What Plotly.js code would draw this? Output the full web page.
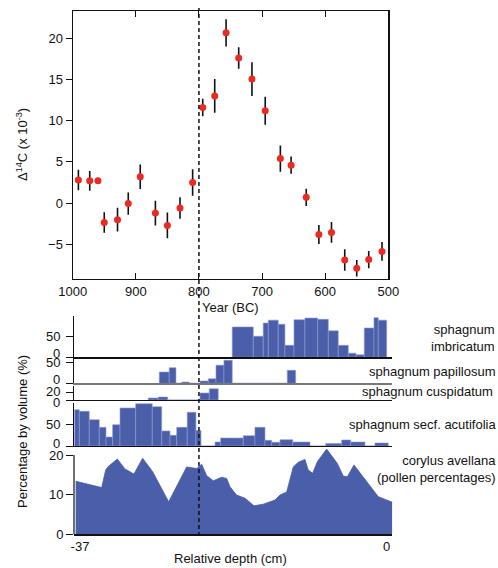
<!DOCTYPE html>
<html>
<head>
<meta charset="utf-8">
<script src="https://cdn.plot.ly/plotly-3.0.1.min.js"></script>
<style>html,body{margin:0;padding:0;background:#fff;}#chart{width:498px;height:568px;}</style>
</head>
<body>
<div id="chart"></div>
<script>
// ---- Top panel: Δ14C by calendar year (BC) ----
const years = [991, 973, 960, 950, 929, 912, 893, 869, 850, 830, 810, 794, 775, 757, 737, 716, 695, 671, 654, 630, 610, 590, 569, 550, 531, 510];
const d14c  = [2.8, 2.7, 2.7, -2.35, -2.0, -0.05, 3.2, -1.2, -2.7, -0.6, 2.5, 11.6, 13.0, 20.65, 17.6, 15.05, 11.2, 5.4, 4.6, 0.7, -3.8, -3.55, -6.9, -7.9, -6.85, -5.85];
const d14cErr = [1.25, 1.2, 0, 1.25, 1.45, 1.35, 1.5, 1.5, 1.55, 1.3, 1.6, 1.05, 2.05, 1.65, 1.3, 2.05, 1.7, 1.6, 1.05, 1.05, 1.15, 1.25, 1.3, 1.0, 1.05, 1.15];
const yearTicks = [1000, 900, 800, 700, 600, 500];
const d14cTicks = [-5, 0, 5, 10, 15, 20];

// ---- Lower panels: relative depth (cm), bin edges and percentages ----
const imbricatumEdges = [-18.63, -16.09, -14.89, -14.28, -13.08, -12.27, -11.18, -9.86, -8.32, -7.04, -5.84, -4.63, -3.70, -2.70, -1.53, -1.01, 0.0];
const imbricatumVals  = [73.5, 51, 83, 90, 80, 29, 91, 95, 92, 64, 29, 10, 6, 71, 96, 90];

const papillosumEdges = [-27.43, -26.23, -25.42, -24.73, -23.81, -22.52, -21.52, -20.59, -19.63, -18.63, -11.99, -10.98];
const papillosumVals  = [27.4, 38, 0, 3, 0, 5.6, 11, 44, 56, 0, 31.5];

const cuspidatumEdges = [-28.76, -27.55, -26.42, -22.52, -21.40, -20.32];
const cuspidatumVals  = [5, 7.5, 0, 17.5, 28];

const acutifoliaEdges = [-37.64, -37.08, -35.88, -34.67, -33.86, -33.06, -32.17, -30.28, -28.28, -27.14, -26.14, -25.33, -24.06, -23.01, -22.40, -20.71, -20.03, -17.30, -15.89, -14.68, -13.87, -12.87, -11.34, -9.25, -7.36, -5.43, -4.34, -2.62, -1.41, 0.19];
const acutifoliaVals  = [83.7, 80, 60.6, 43, 20.7, 49, 87.6, 97.5, 90.6, 34.6, 24.6, 43, 77.6, 36, 0, 9.2, 18.4, 23.8, 43, 13, 8.5, 14.5, 9.2, 0, 6, 13.8, 9.2, 0, 6.9];

const corylusDepth = [-37.52, -34.38, -33.90, -33.59, -32.50, -31.57, -30.49, -29.44, -28.23, -26.30, -24.13, -22.92, -22.32, -21.71, -20.92, -19.91, -19.30, -18.90, -18.10, -17.09, -16.01, -14.89, -13.48, -12.87, -12.06, -11.27, -10.66, -9.86, -9.46, -8.93, -8.37, -7.24, -5.96, -5.24, -4.75, -3.94, -2.41, -1.01, 0.68];
const corylusPct   = [13.4, 11.8, 16.2, 17.1, 19.0, 16.5, 15.2, 19.2, 15.8, 8.2, 17.0, 16.6, 17.7, 14.8, 13.5, 14.4, 14.1, 12.0, 9.9, 9.1, 7.2, 7.6, 8.65, 9.9, 10.7, 17.0, 18.2, 18.9, 16.2, 15.4, 18.3, 21.5, 17.9, 14.7, 14.5, 17.5, 13.3, 9.5, 8.1];
const corylusAxisMax = 20;

// panel axis ticks
const imbricatumTicks = [0, 50];
const papillosumTicks = [0, 50];
const cuspidatumTicks = [0, 20];
const acutifoliaTicks = [0, 50];
const corylusTicks = [0, 10, 20];

const depthTicks = [-37, 0];
const depthTickText = ['-37', '0'];
const panelLabels = ['sphagnum<br>imbricatum', 'sphagnum papillosum', 'sphagnum cuspidatum', 'sphagnum secf. acutifolia', 'corylus avellana<br>(pollen percentages)'];
const markerLine = 800; // year of the dashed reference line

// ---- layout helpers ----
const W = 498, H = 568;
const FONT = 'Liberation Sans, Arial, Helvetica, sans-serif';
const BLUE = '#4a5ea9';
function ydom(top, bottom) { return [1 - bottom / H, 1 - top / H]; }
function xdom(left, right) { return [left / W, right / W]; }

function barsFrom(edges, vals, xa, ya) {
  const x = [], w = [];
  for (let i = 0; i < vals.length; i++) { x.push(edges[i]); w.push(edges[i + 1] - edges[i]); }
  return {type: 'bar', x: x, y: vals, width: w, offset: 0, xaxis: xa, yaxis: ya,
          marker: {color: BLUE, line: {width: 0.6, color: '#8e9bd3'}}, hoverinfo: 'skip', showlegend: false};
}

const traces = [
  {type: 'scatter', mode: 'markers', x: years, y: d14c, xaxis: 'x', yaxis: 'y',
   marker: {color: '#ec2a22', size: 7},
   error_y: {type: 'data', array: d14cErr, visible: true, color: '#111', thickness: 1.6, width: 0},
   showlegend: false},
  barsFrom(imbricatumEdges, imbricatumVals, 'x2', 'y3'),
  barsFrom(papillosumEdges, papillosumVals, 'x3', 'y4'),
  barsFrom(cuspidatumEdges, cuspidatumVals, 'x4', 'y5'),
  barsFrom(acutifoliaEdges, acutifoliaVals, 'x5', 'y6'),
  {type: 'scatter', mode: 'lines', x: corylusDepth, y: corylusPct, xaxis: 'x6', yaxis: 'y7',
   fill: 'tozeroy', fillcolor: BLUE, line: {color: BLUE, width: 0.8}, showlegend: false}
];

const tickFont = {family: FONT, size: 13, color: '#111'};
const lowerX = xdom(74, 392.3);
const depthRange = [-37.72, 0.68];
function lowerXAxis(anchor, lineColor, extra) {
  return Object.assign({domain: lowerX, range: depthRange, anchor: anchor, showline: true, linecolor: lineColor, linewidth: 1.3,
    showgrid: false, zeroline: false, ticks: '', showticklabels: false, fixedrange: true}, extra || {});
}
function lowerYAxis(anchor, dom, range, tv, extra) {
  return Object.assign({domain: dom, range: range, anchor: anchor, showline: true, linecolor: '#111', linewidth: 1.2,
    ticks: 'outside', ticklen: 7, tickwidth: 1, tickcolor: '#111', tickvals: tv, tickfont: tickFont,
    showgrid: false, zeroline: false}, extra || {});
}

// tick labels of the four narrow bar panels are set as annotations so that
// crowded zero labels can be nudged like in the reference
const crowded = [
  {ref: 'y3', ticks: imbricatumTicks, shifts: [4, 0]},
  {ref: 'y4', ticks: papillosumTicks, shifts: [4, 0]},
  {ref: 'y5', ticks: cuspidatumTicks, shifts: [-2, 1]},
  {ref: 'y6', ticks: acutifoliaTicks, shifts: [3, 0]}
];
const tickAnnotations = [];
crowded.forEach(p => p.ticks.forEach((v, i) => tickAnnotations.push({
  text: String(v), xref: 'paper', yref: p.ref, x: 61.5 / W, y: v, xanchor: 'right', yanchor: 'middle',
  yshift: p.shifts[i], showarrow: false, font: tickFont
})));

const layout = {
  width: W, height: H, margin: {l: 0, r: 0, t: 0, b: 0}, paper_bgcolor: '#fff', plot_bgcolor: 'rgba(0,0,0,0)',
  font: {family: FONT, size: 13, color: '#111'}, showlegend: false, barmode: 'overlay',
  xaxis: {domain: xdom(72.7, 388.3), range: [1000, 500], anchor: 'y', tickvals: yearTicks, ticks: 'inside', ticklen: 6,
          tickcolor: '#111', showline: true, mirror: 'ticks', linecolor: '#111', linewidth: 1.2, showgrid: false,
          zeroline: false, tickfont: tickFont},
  yaxis: {domain: ydom(11, 279), range: [-9.2, 23.3], anchor: 'x', tickvals: d14cTicks, ticks: 'outside', ticklen: 6,
          tickcolor: '#111', showline: true, mirror: true, linecolor: '#111', linewidth: 1.2, showgrid: false,
          zeroline: false, tickfont: tickFont},
  yaxis2: {overlaying: 'y', side: 'right', anchor: 'x', range: [-9.2, 23.3], tickvals: d14cTicks, ticks: 'inside',
           ticklen: 6, tickcolor: '#111', showticklabels: false, showline: false, showgrid: false, zeroline: false},
  xaxis2: lowerXAxis('y3', '#111'),
  xaxis3: lowerXAxis('y4', '#777'),
  xaxis4: lowerXAxis('y5', '#111'),
  xaxis5: lowerXAxis('y6', '#111'),
  xaxis6: lowerXAxis('y7', '#111', {showticklabels: true, tickvals: depthTicks, ticktext: depthTickText, tickfont: tickFont}),
  yaxis3: lowerYAxis('x2', ydom(316, 357.3), [0, 100], imbricatumTicks, {showticklabels: false}),
  yaxis4: lowerYAxis('x3', ydom(359.4, 383.3), [0, 58], papillosumTicks, {showticklabels: false}),
  yaxis5: lowerYAxis('x4', ydom(386, 400), [0, 35], cuspidatumTicks, {showticklabels: false}),
  yaxis6: lowerYAxis('x5', ydom(402.6, 446), [0, 100], acutifoliaTicks, {showticklabels: false}),
  yaxis7: lowerYAxis('x6', ydom(448.7, 534.3), [0, 21.6], corylusTicks, {showline: false}),
  shapes: [
    {type: 'line', xref: 'x', yref: 'paper', x0: markerLine, x1: markerLine, y0: 1 - 536 / H, y1: 1 - 8 / H,
     line: {color: '#111', width: 1.5, dash: '4px,3px'}},
    {type: 'line', xref: 'x6 domain', yref: 'y7', x0: 0, x1: 0, y0: 0, y1: corylusAxisMax,
     line: {color: '#111', width: 1.2}}
  ],
  annotations: tickAnnotations.concat([
    {text: 'Year (BC)', xref: 'paper', yref: 'paper', x: 230 / W, y: 1 - 307 / H, showarrow: false,
     xanchor: 'center', yanchor: 'middle', font: {size: 13}},
    {text: 'Δ<sup>14</sup>C (x 10<sup>-3</sup>)', xref: 'paper', yref: 'paper', x: 22 / W, y: 1 - 145 / H,
     showarrow: false, textangle: -90, xanchor: 'center', yanchor: 'middle', font: {size: 13}},
    {text: 'Percentage by volume (%)', xref: 'paper', yref: 'paper', x: 22 / W, y: 1 - 432 / H,
     showarrow: false, textangle: -90, xanchor: 'center', yanchor: 'middle', font: {size: 13}},
    {text: 'Relative depth (cm)', xref: 'paper', yref: 'paper', x: 230 / W, y: 1 - 558 / H, showarrow: false,
     xanchor: 'center', yanchor: 'middle', font: {size: 13}},
    {text: panelLabels[0], xref: 'paper', yref: 'paper', x: 497 / W, y: 1 - 338 / H, showarrow: false,
     xanchor: 'right', yanchor: 'middle', align: 'right', font: {size: 13}},
    {text: panelLabels[1], xref: 'paper', yref: 'paper', x: 497 / W, y: 1 - 371 / H, showarrow: false,
     xanchor: 'right', yanchor: 'middle', align: 'right', font: {size: 13}},
    {text: panelLabels[2], xref: 'paper', yref: 'paper', x: 495 / W, y: 1 - 391 / H, showarrow: false,
     xanchor: 'right', yanchor: 'middle', align: 'right', font: {size: 13}},
    {text: panelLabels[3], xref: 'paper', yref: 'paper', x: 498 / W, y: 1 - 424 / H, showarrow: false,
     xanchor: 'right', yanchor: 'middle', align: 'right', font: {size: 13}},
    {text: panelLabels[4], xref: 'paper', yref: 'paper', x: 498 / W, y: 1 - 469 / H, showarrow: false,
     xanchor: 'right', yanchor: 'middle', align: 'right', font: {size: 13}}
  ])
};

Plotly.newPlot('chart', traces, layout, {displayModeBar: false, staticPlot: true});
</script>
</body>
</html>
